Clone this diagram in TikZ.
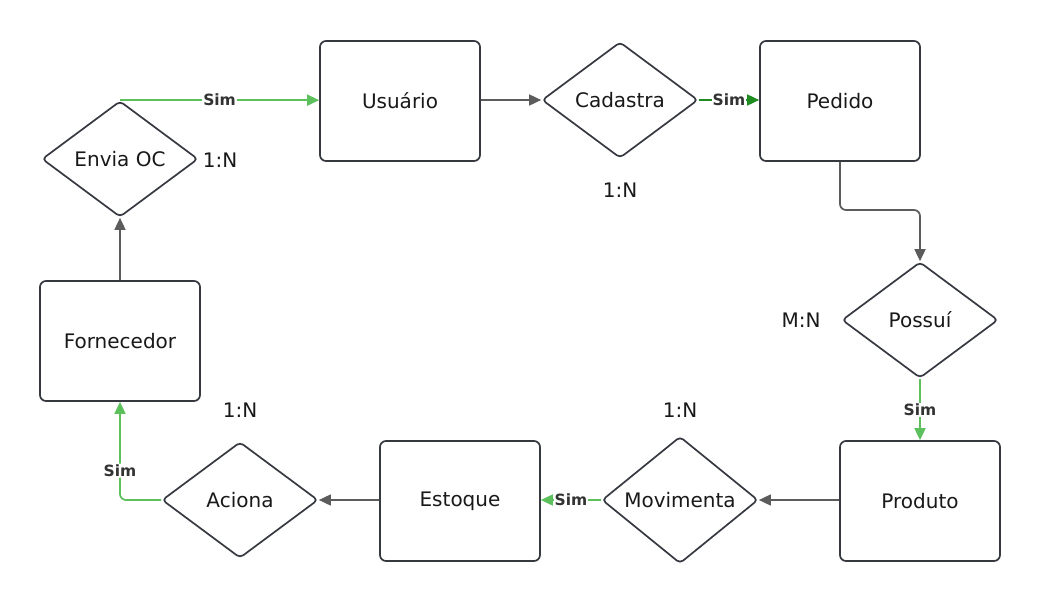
\documentclass[tikz,border=0pt]{standalone}
\usepackage{fontspec}
\setmainfont{DejaVu Sans}
\usetikzlibrary{shapes.geometric,arrows.meta}
\definecolor{bordc}{HTML}{363940}
\definecolor{greyc}{HTML}{5C5C5C}
\definecolor{greenc}{HTML}{5CC05C}
\definecolor{dgreenc}{HTML}{1E8C1E}
\definecolor{labc}{HTML}{333333}
\begin{document}
\begin{tikzpicture}[x=1pt,y=-1pt,
  entity/.style={draw=bordc, line width=1.7pt, rounded corners=6pt, minimum width=160pt, minimum height=120pt, inner sep=0pt, font=\fontsize{20}{24}\selectfont, text=black!90},
  rel/.style={draw=bordc, line width=1.7pt, diamond, rounded corners=4pt, minimum width=156pt, minimum height=116pt, inner sep=0pt, font=\fontsize{20}{24}\selectfont, text=black!90},
  card/.style={font=\fontsize{20}{24}\selectfont, text=black!90},
  conn/.style={line width=1.7pt, -{Triangle[length=12pt,width=11pt]}},
  gconn/.style={conn, draw=greyc, color=greyc},
  grconn/.style={conn, draw=greenc, color=greenc},
  dgconn/.style={conn, draw=dgreenc, color=dgreenc},
  simlab/.style={fill=white, inner sep=1pt, text=labc, font=\bfseries\fontsize{15.5}{17}\selectfont}
]
\useasboundingbox (0,0) rectangle (1040,600);
\fill[white] (0,0) rectangle (1040,600);

\node[entity] (usuario) at (400,101) {Usuário};
\node[entity] (pedido) at (840,101) {Pedido};
\node[entity] (fornecedor) at (120,341) {Fornecedor};
\node[entity] (estoque) at (460,501) {Estoque};
\node[entity] (produto) at (920,501) {Produto};

\node[rel] (envia) at (120,159) {Envia OC};
\node[rel] (cadastra) at (620,100) {Cadastra};
\node[rel] (possui) at (920,320) {Possuí};
\node[rel] (movimenta) at (680,500) {Movimenta};
\node[rel] (aciona) at (240,500) {Aciona};

\node[card] (c1) at (220,160) {1:N};
\node[card] (c2) at (620,190) {1:N};
\node[card] (c3) at (801,320) {M:N};
\node[card] (c4) at (240,410) {1:N};
\node[card] (c5) at (680,410) {1:N};

\draw[grconn] (envia.north) -- node[simlab] {Sim} (usuario.west |- envia.north);
\draw[gconn] (usuario.east |- cadastra.west) -- (cadastra.west);
\draw[dgconn] (cadastra.east) -- node[simlab] {Sim} (pedido.west |- cadastra.east);
\draw[gconn, rounded corners=6pt] (pedido.south) -- (840,210) -- (920,210) -- (possui.north);
\draw[grconn] (possui.south) -- node[simlab] {Sim} (produto.north);
\draw[gconn] (produto.west |- movimenta.east) -- (movimenta.east);
\draw[grconn] (movimenta.west) -- node[simlab] {Sim} (estoque.east |- movimenta.west);
\draw[gconn] (estoque.west |- aciona.east) -- (aciona.east);
\draw[grconn, rounded corners=6pt] (aciona.west) -| node[simlab, pos=0.65] {Sim} (fornecedor.south);
\draw[gconn] (fornecedor.north) -- (envia.south);
\end{tikzpicture}
\end{document}
